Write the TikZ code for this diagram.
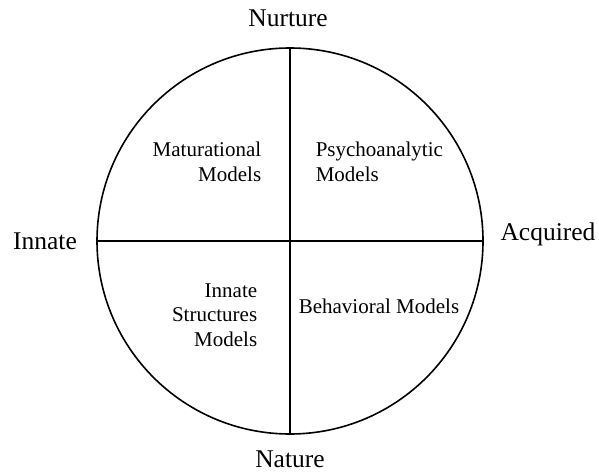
\documentclass[tikz,border=0pt]{standalone}
\usepackage{fontspec}
\setmainfont{Liberation Serif}
\tikzset{
  axislabel/.style={inner sep=0pt,font=\fontsize{25.5}{30}\selectfont},
  quadlabel/.style={inner sep=0pt,font=\fontsize{21}{24.5}\selectfont}
}
\begin{document}
\begin{tikzpicture}[x=1pt,y=-1pt,line width=1.6pt]
\useasboundingbox (0,0) rectangle (599,473);
% circle and axes
\node[draw,circle,minimum size=386pt,inner sep=0pt] (ring) at (290,241) {};
\draw (ring.north) -- (ring.south);
\draw (ring.west) -- (ring.east);
% axis labels
\node[axislabel,anchor=base] (nurture) at (288,26.5) {Nurture};
\node[axislabel,anchor=base] (nature) at (290,467.5) {Nature};
\node[axislabel] (innate) at (45,241) {Innate};
\node[axislabel] (acquired) at (548,234) {Acquired};
% quadrant labels
\node[quadlabel,align=right,anchor=north east] (maturational) at (262,141.5) {Maturational\\Models};
\node[quadlabel,align=left,anchor=north west] (psycho) at (315,141.5) {Psychoanalytic\\Models};
\node[quadlabel,align=right,anchor=north east] (structures) at (258,282.5) {Innate\\Structures\\Models};
\node[quadlabel,anchor=base west] (behavioral) at (298,313) {Behavioral Models};
\end{tikzpicture}
\end{document}
